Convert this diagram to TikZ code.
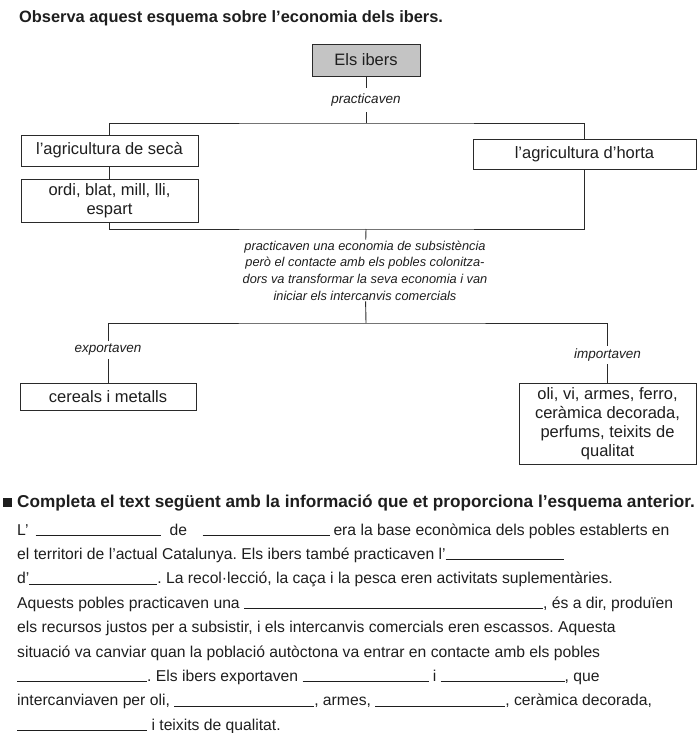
\documentclass[tikz,border=0pt]{standalone}
\usepackage{fontspec}
\setmainfont{Liberation Sans}
\usetikzlibrary{positioning}
\frenchspacing
\definecolor{SheetInk}{HTML}{1E1E1E}
\definecolor{SheetLine}{HTML}{2A2A2A}
\definecolor{SheetShade}{HTML}{C4C4C4}
\newcommand{\gapline}[1]{\rule[-0.6pt]{#1pt}{0.8pt}}
\tikzset{
  every node/.style={text=SheetInk, inner sep=0pt},
  topic/.style={draw=SheetLine, line width=0.8pt, fill=white, align=center, font=\fontsize{16.5}{19}\selectfont},
  root/.style={topic, fill=SheetShade},
  verb/.style={font=\fontsize{13.5}{16}\selectfont\itshape, inner ysep=3pt},
  branch/.style={draw=SheetLine, line width=0.9pt},
  heading/.style={anchor=base west, font=\fontsize{16.4}{19}\selectfont\bfseries},
  textline/.style={anchor=base west, font=\fontsize{15.7}{19}\selectfont},
}
\begin{document}
\begin{tikzpicture}[x=1pt,y=-1pt]
  \useasboundingbox (0,0) rectangle (700,733);
  \node[heading] (observa) at (19,23) {Observa aquest esquema sobre l’economia dels ibers.};
  \node[root, minimum width=108pt, minimum height=32pt] (ibers) at (366,60) {Els ibers};
  \node[verb, inner ysep=6pt] (practica) at (366,100) {practicaven};
  \coordinate (bar1) at (366,123);
  \node[topic, minimum width=177pt, minimum height=31pt] (seca) at (109.5,150.5) {l’agricultura de secà};
  \node[topic, minimum width=177pt, minimum height=43pt] (ordi) at (109.5,200.5) {ordi, blat, mill, lli,\\espart};
  \node[topic, minimum width=223pt, minimum height=30pt] (horta) at (584.5,154) {l’agricultura d’horta};
  \coordinate (bar2) at (366,229);
  \node[verb, font=\fontsize{12.8}{16.6}\selectfont\itshape, align=center, inner ysep=1pt] (subsist) at (365,270.5)
    {practicaven una economia de subsistència\\però el contacte amb els pobles colonitza-\\dors va transformar la seva economia i van\\iniciar els intercanvis comercials};
  \coordinate (bar3) at (366,323);
  \node[verb] (exporta) at (108,350) {exportaven};
  \node[verb] (importa) at (607.5,355) {importaven};
  \node[topic, minimum width=176pt, minimum height=27pt] (cereals) at (108,396.5) {cereals i metalls};
  \node[topic, minimum width=177pt, minimum height=81pt] (oli) at (607.5,423.5) {oli, vi, armes, ferro,\\ceràmica decorada,\\perfums, teixits de\\qualitat};
  \draw[branch] (ibers) -- (practica);
  \draw[branch] (practica) -- (bar1);
  \draw[branch] (seca) |- (bar1) -| (horta);
  \draw[branch] (seca) -- (ordi);
  \draw[branch] (ordi) |- (bar2) -| (horta);
  \draw[branch] (bar2) -- (subsist);
  \draw[branch] (subsist) -- (bar3);
  \draw[branch] (exporta) |- (bar3) -| (importa);
  \draw[branch] (exporta) -- (cereals);
  \draw[branch] (importa) -- (oli);
  \node[fill=SheetInk, minimum size=9pt, anchor=south west] (mark) at (3,507) {};
  \node[heading, font=\fontsize{17.2}{19}\selectfont\bfseries] (completa) at (17,507) {Completa el text següent amb la informació que et proporciona l’esquema anterior.};
  \foreach \t [count=\i] in {
    {L’\hspace{7pt}\gapline{125}\hspace{9pt}de\hspace{15.5pt}\gapline{127}\hspace{4pt}era la base econòmica dels pobles establerts en},
    {el territori de l’actual Catalunya. Els ibers també practicaven l’\gapline{118}},
    {d’\gapline{128}. La recol·lecció, la caça i la pesca eren activitats suplementàries.},
    {Aquests pobles practicaven una \gapline{299}, és a dir, produïen},
    {els recursos justos per a subsistir, i els intercanvis comercials eren escassos. Aquesta},
    {situació va canviar quan la població autòctona va entrar en contacte amb els pobles},
    {\gapline{130}. Els ibers exportaven \gapline{126} i \gapline{124}, que},
    {intercanviaven per oli, \gapline{140}, armes, \gapline{130}, ceràmica decorada,},
    {\gapline{130} i teixits de qualitat.}}
    \node[textline] (line\i) at (17,510.6+24.4*\i) {\t};
\end{tikzpicture}
\end{document}
